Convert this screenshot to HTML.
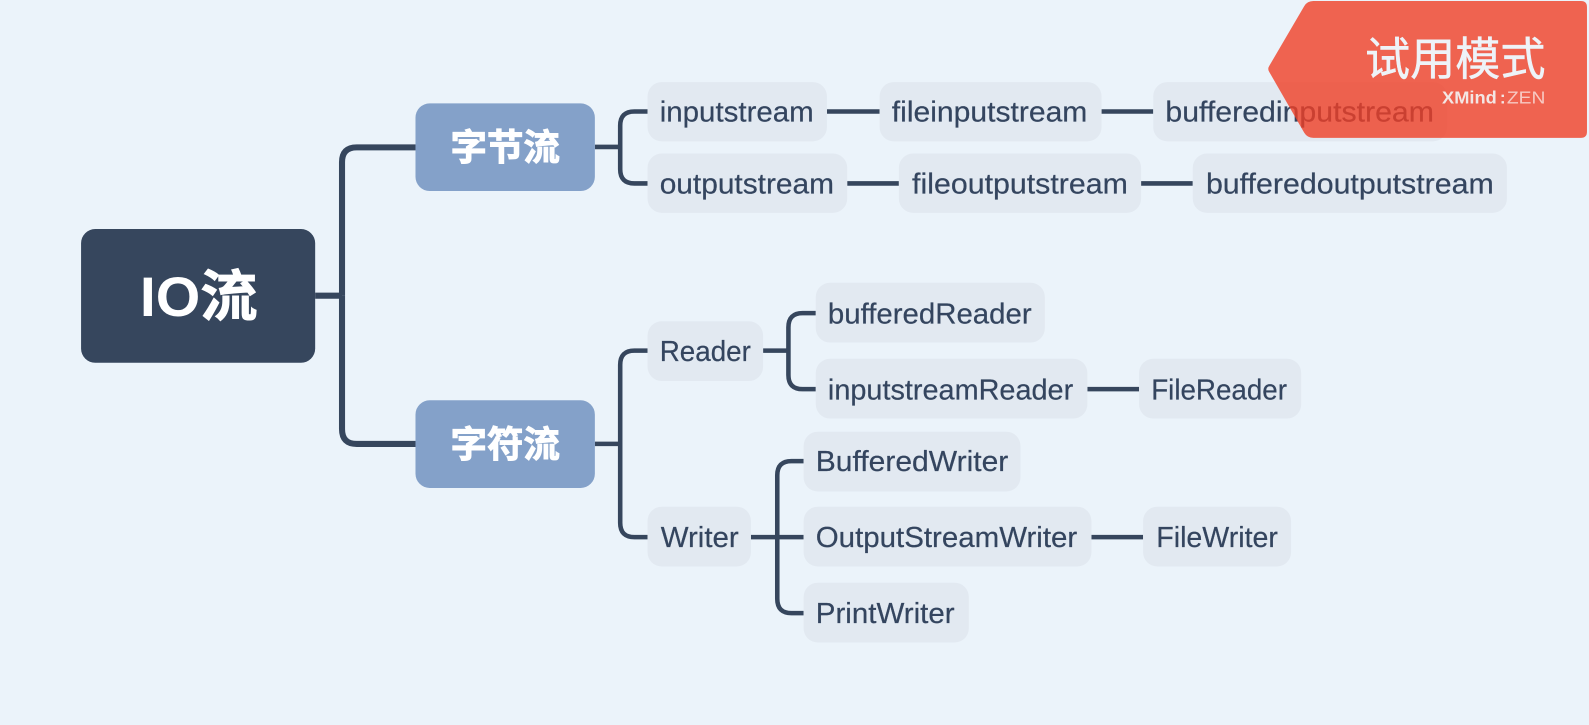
<!DOCTYPE html>
<html><head><meta charset="utf-8"><style>
html,body{margin:0;padding:0;background:#ebf3fa;width:1589px;height:725px;overflow:hidden}
svg{display:block}
.n{fill:#e2e9f1}
.t{font-family:"Liberation Sans","Noto Sans CJK SC",sans-serif;font-size:28px;fill:#34455f;stroke:#34455f;stroke-width:.2}
.l{fill:none;stroke:#36465d;stroke-width:4.500;stroke-linecap:butt}
.m{fill:none;stroke:#36465d;stroke-width:6;stroke-linecap:butt}
.b{font-family:"Liberation Sans","Noto Sans CJK SC",sans-serif;font-weight:bold;fill:#fff}
.h{stroke:#fff;stroke-width:.9}
</style></head><body>
<svg xmlns="http://www.w3.org/2000/svg" width="1589" height="725" viewBox="0 0 1568 715.4">
<rect width="1568" height="716" fill="#ebf3fa"/>
<!-- main connectors -->
<path class="m" d="M311 291.800H337.500"/>
<path class="m" d="M337.500 292V160Q337.500 145.400 352 145.400H410"/>
<path class="m" d="M337.500 292V423.500Q337.500 438.100 352 438.100H410"/>
<!-- branch connectors -->
<path class="l" d="M587 145H612"/>
<path class="l" d="M639 110H626Q612 110 612 124V167Q612 181 626 181H639"/>
<path class="l" d="M587 438H612"/>
<path class="l" d="M639 346H626Q612 346 612 360V516Q612 530 626 530H639"/>
<path class="l" d="M753 346H778"/>
<path class="l" d="M805 309H792Q778 309 778 323V370Q778 384 792 384H805"/>
<path class="l" d="M741 530H793"/>
<path class="l" d="M793 455H781Q767 455 767 469V591Q767 605 781 605H793"/>
<path class="l" d="M816 110H868M1087 110H1138M836 181H887M1126 181H1177M1073 384H1124M1077 530H1128"/>
<!-- root -->
<rect x="80" y="226" width="231" height="132" rx="14" fill="#36465d"/>
<text class="b" x="196" y="312" font-size="55" text-anchor="middle" textLength="116" lengthAdjust="spacingAndGlyphs">IO<tspan class="h">流</tspan></text>
<!-- level 1 -->
<rect x="410" y="102" width="177" height="86.500" rx="14" fill="#84a1c9"/>
<text class="b h" x="498.500" y="158" font-size="36" text-anchor="middle">字节流</text>
<rect x="410" y="395" width="177" height="86.500" rx="14" fill="#84a1c9"/>
<text class="b h" x="498.500" y="451" font-size="36" text-anchor="middle">字符流</text>
<!-- nodes -->
<rect class="n" x="639" y="81" width="177" height="58.500" rx="14"/>
<text class="t" x="651" y="120" textLength="152" lengthAdjust="spacingAndGlyphs">inputstream</text>
<rect class="n" x="868" y="81" width="219" height="58.500" rx="14"/>
<text class="t" x="880" y="120" textLength="193" lengthAdjust="spacingAndGlyphs">fileinputstream</text>
<rect class="n" x="1138" y="81" width="290" height="58.500" rx="14"/>
<text class="t" x="1150" y="120" textLength="265" lengthAdjust="spacingAndGlyphs">bufferedinputstream</text>
<rect class="n" x="639" y="151.500" width="197" height="58.500" rx="14"/>
<text class="t" x="651" y="191" textLength="172" lengthAdjust="spacingAndGlyphs">outputstream</text>
<rect class="n" x="887" y="151.500" width="239" height="58.500" rx="14"/>
<text class="t" x="900" y="191" textLength="213" lengthAdjust="spacingAndGlyphs">fileoutputstream</text>
<rect class="n" x="1177" y="151.500" width="310" height="58.500" rx="14"/>
<text class="t" x="1190" y="191" textLength="284" lengthAdjust="spacingAndGlyphs">bufferedoutputstream</text>
<rect class="n" x="639" y="317" width="114" height="59" rx="14"/>
<text class="t" x="651" y="356" textLength="90" lengthAdjust="spacingAndGlyphs">Reader</text>
<rect class="n" x="805" y="279" width="226" height="59" rx="14"/>
<text class="t" x="817" y="319" textLength="201" lengthAdjust="spacingAndGlyphs">bufferedReader</text>
<rect class="n" x="805" y="354" width="268" height="59" rx="14"/>
<text class="t" x="817" y="394" textLength="242" lengthAdjust="spacingAndGlyphs">inputstreamReader</text>
<rect class="n" x="1124" y="354" width="160" height="59" rx="14"/>
<text class="t" x="1136" y="394" textLength="134" lengthAdjust="spacingAndGlyphs">FileReader</text>
<rect class="n" x="639" y="500" width="102" height="59" rx="14"/>
<text class="t" x="652" y="540" textLength="77" lengthAdjust="spacingAndGlyphs">Writer</text>
<rect class="n" x="793" y="426" width="214" height="59" rx="14"/>
<text class="t" x="805" y="465" textLength="190" lengthAdjust="spacingAndGlyphs">BufferedWriter</text>
<rect class="n" x="793" y="500" width="284" height="59" rx="14"/>
<text class="t" x="805" y="540" textLength="258" lengthAdjust="spacingAndGlyphs">OutputStreamWriter</text>
<rect class="n" x="1128" y="500" width="146" height="59" rx="14"/>
<text class="t" x="1141" y="540" textLength="120" lengthAdjust="spacingAndGlyphs">FileWriter</text>
<rect class="n" x="793" y="575" width="163" height="59" rx="14"/>
<text class="t" x="805" y="615" textLength="137" lengthAdjust="spacingAndGlyphs">PrintWriter</text>
<!-- badge -->
<path d="M1296 1H1560Q1566 1 1566 7V130Q1566 136 1560 136H1296Q1290 136 1287 131L1252.500 71Q1250.500 68 1252.500 65L1287 6Q1290 1 1296 1Z" fill="rgb(240,62,38)" fill-opacity=".8"/>
<text x="1525" y="74" text-anchor="end" font-size="45" fill="#eef3f8" stroke="#eef3f8" stroke-width=".5" font-family="'Noto Sans CJK SC','Liberation Sans',sans-serif" textLength="178" lengthAdjust="spacingAndGlyphs">试用模式</text>
<text x="1423" y="102" font-size="17" fill="#f3e6e4" font-family="'Liberation Sans',sans-serif" font-weight="bold" textLength="54" lengthAdjust="spacingAndGlyphs">XMind</text>
<text x="1480" y="102" font-size="17" fill="#f3e6e4" font-family="'Liberation Sans',sans-serif" font-weight="bold">:</text>
<text x="1487" y="102" font-size="17" fill="#f7c9c2" font-family="'Liberation Sans',sans-serif" textLength="38" lengthAdjust="spacingAndGlyphs">ZEN</text>
</svg>
</body></html>
